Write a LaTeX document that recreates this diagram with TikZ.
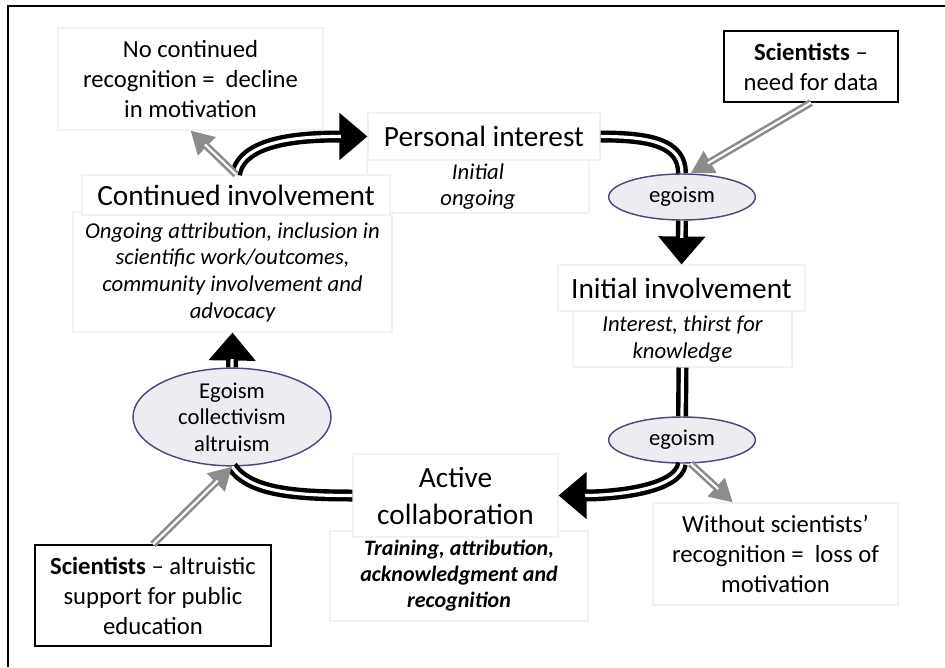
\documentclass[tikz,border=0pt]{standalone}
\usepackage{fontspec}
\setmainfont{Carlito}
\usetikzlibrary{arrows.meta,shapes.geometric,calc}
\definecolor{egofill}{HTML}{EDEDF1}
\definecolor{egoborder}{HTML}{4B4B78}
\definecolor{arrowgrey}{HTML}{8C8C8C}
\newcommand{\fbody}{\fontsize{18.5}{22.5}\selectfont}
\newcommand{\ftitle}{\fontsize{22}{27.75}\selectfont}
\newcommand{\fsub}{\fontsize{17}{20}\selectfont\itshape}
\newcommand{\fsubb}{\fontsize{16.5}{19.5}\selectfont\bfseries\itshape}
\newcommand{\fego}{\fontsize{17}{20}\selectfont}
\newcommand{\bkarrow}[1]{\draw[bk,bkhead] #1; \draw[bkin,shorten >=20pt] #1;}
\newcommand{\bkline}[1]{\draw[bk] #1; \draw[bkin] #1;}
\newcommand{\gyarrow}[1]{\draw[gy,gyhead] #1; \draw[gyin,shorten >=15pt] #1;}
\tikzset{
  box/.style={rectangle, draw=gray!10, fill=white, line width=0.8pt, inner sep=0pt, align=center},
  kbox/.style={rectangle, draw=black, fill=white, line width=1pt, inner sep=0pt, align=center},
  ego/.style={ellipse, draw=egoborder, fill=egofill, line width=1.1pt, inner sep=0pt, align=center},
  bk/.style={draw=black, line width=9pt},
  bkin/.style={draw=white, line width=2.4pt},
  bkhead/.style={-{Triangle[length=21pt,width=34pt]}},
  gy/.style={draw=arrowgrey, line width=5.5pt},
  gyin/.style={draw=white, line width=1.6pt},
  gyhead/.style={-{Triangle[length=17pt,width=18pt]}},
}
\begin{document}
\begin{tikzpicture}[x=0.75pt,y=-0.75pt]
\useasboundingbox (0,0) rectangle (945,667);
\fill[white] (0,0) rectangle (945,667);
\draw[line width=1.5pt] (8,667) -- (8,6) -- (945,6);

% boxes
\node[box, minimum width=198.75pt, minimum height=76.5pt, font=\fbody] (nc) at (190.5,79)
  {No continued\\recognition = \ decline\\in motivation};
\node[box, minimum width=166.5pt, minimum height=39.75pt, font=\fsub] (pis) at (478,186.5)
  {Initial\\ongoing};
\node[box, minimum width=174pt, minimum height=35.25pt, font=\ftitle] (pit) at (484,136.5)
  {Personal interest};
\node[kbox, minimum width=130.5pt, minimum height=53.25pt, font=\fbody] (sci1) at (811,66.5)
  {\textbf{Scientists} --\\need for data};
\node[box, minimum width=239.25pt, minimum height=90pt, font=\fsub] (cis) at (232.5,272)
  {Ongoing attribution, inclusion in\\scientific work/outcomes,\\community involvement and\\advocacy};
\node[box, minimum width=231pt, minimum height=30pt, font=\ftitle] (cit) at (236,195)
  {Continued involvement};
\node[box, minimum width=164.25pt, minimum height=42pt, font=\fsub] (iis) at (682.5,339)
  {Interest, thirst for\\knowledge};
\node[box, minimum width=185.25pt, minimum height=34.5pt, font=\ftitle] (iit) at (681.5,288)
  {Initial involvement};
\node[box, minimum width=183.75pt, minimum height=76.5pt, font=\fbody] (wo) at (775.5,554)
  {Without scientists’\\recognition = \ loss of\\motivation};
\node[box, minimum width=193.5pt, minimum height=67.5pt, font=\fsubb] (acs) at (459,576)
  {Training, attribution,\\acknowledgment and\\recognition};
\node[box, minimum width=153.75pt, minimum height=62.25pt, font=\ftitle] (act) at (455.5,495.5)
  {Active\\collaboration};
\node[kbox, minimum width=177pt, minimum height=75.75pt, font=\fbody] (sci2) at (153,595.5)
  {\textbf{Scientists} -- altruistic\\support for public\\education};

% ellipses
\node[ego, minimum width=110pt, minimum height=34.5pt, font=\fego] (ego1) at (682,197) {egoism};
\node[ego, minimum width=110pt, minimum height=34.5pt, font=\fego] (ego2) at (682,440) {egoism};
\node[ego, minimum width=148.5pt, minimum height=67.5pt, font=\fego] (ego3) at (232,417)
  {Egoism\\collectivism\\altruism};

% black cycle
\bkarrow{(cit.north) .. controls +(6,-36) and +(-60,0) .. (pit.west)}
\bkline{(pit.east) .. controls +(50,0) and +(0,-30) .. (ego1.north)}
\bkarrow{(ego1.south) -- (iit.north)}
\bkline{(iis.south) -- (ego2.north)}
\bkarrow{(ego2.south) .. controls +(-4,26) and +(55,0) .. (act.east)}
\bkline{(act.west) .. controls +(-55,0) and +(18,26) .. (ego3.south)}
\bkarrow{(ego3.north) -- (cis.south)}

% grey arrows
\gyarrow{(sci1.south) -- (ego1.70)}
\gyarrow{(cit.north) -- (nc.south)}
\gyarrow{(ego2.-70) -- ([xshift=-32pt]wo.north)}
\gyarrow{(sci2.north) -- (ego3.south)}
\end{tikzpicture}
\end{document}
